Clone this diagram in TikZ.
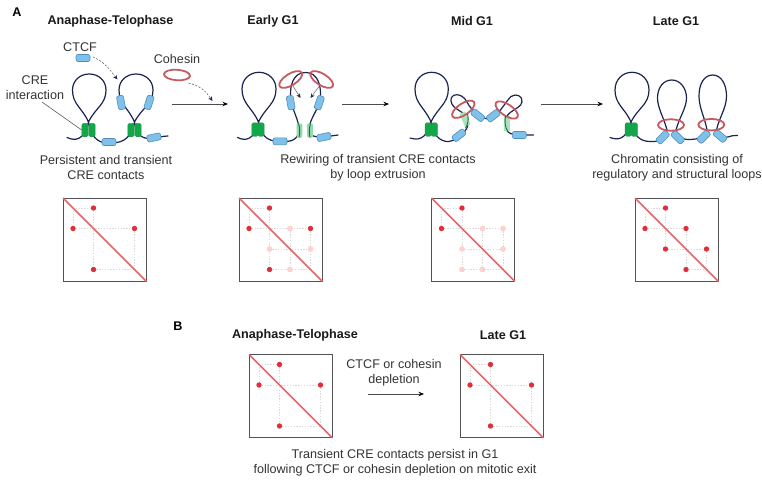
\documentclass[tikz,border=0pt]{standalone}
\usepackage{fontspec}
\setmainfont{Liberation Sans}
\usetikzlibrary{arrows.meta,shapes.geometric}
\definecolor{fibre}{HTML}{1B2350}
\definecolor{ctcfblue}{HTML}{7FC1E8}
\definecolor{ctcfedge}{HTML}{4E8FBE}
\definecolor{creg}{HTML}{12A84A}
\definecolor{credge}{HTML}{2E8B4A}
\definecolor{ringred}{HTML}{C65A5F}
\definecolor{diagred}{HTML}{E2666A}
\definecolor{dotred}{HTML}{E22D3B}
\definecolor{dotpale}{HTML}{FAD2D0}
\definecolor{gridgrey}{HTML}{DADADA}
\tikzset{
  x=1pt,y=-1pt,
  label text/.style={font=\fontsize{12.6}{14}\selectfont,inner sep=0pt,text=black!80,align=center},
  head text/.style={font=\fontsize{12.6}{14}\selectfont\bfseries,inner sep=0pt,text=black!90},
  panel text/.style={font=\fontsize{12.6}{14}\selectfont\bfseries,inner sep=0pt},
  fibreline/.style={draw=fibre,line width=1.2pt,line cap=round},
  ctcf/.style={draw=ctcfedge,fill=ctcfblue,line width=.6pt,rounded corners=2pt,minimum width=14pt,minimum height=7pt,inner sep=0pt,outer sep=0pt},
  cre/.style={draw=credge,fill=creg,line width=.3pt,rounded corners=1.5pt,minimum width=6.4pt,minimum height=13.5pt,inner sep=0pt},
  crefade/.style={fill=creg!45,draw=none,rounded corners=1pt,minimum width=5.6pt,minimum height=14pt,inner sep=0pt},
  crecore/.style={draw=creg!70!black,line width=.9pt},
  ring/.style={ellipse,draw=ringred,line width=1.8pt,minimum width=26pt,minimum height=11.5pt,inner sep=0pt,fill=none},
  stage arrow/.style={draw=black!70,line width=.8pt,-{Stealth[length=5.5pt,width=4.5pt,color=black]}},
  move arrow/.style={draw=black!55,line width=.6pt,-{Stealth[length=4.5pt,width=4pt,color=fibre]}},
  load arrow/.style={draw=black!60,line width=.6pt,dash pattern=on 2pt off 1.6pt,-{Stealth[length=4.5pt,width=4pt,color=fibre]}},
  mapbox/.style={draw=black!68,line width=1pt,minimum size=83.4pt,inner sep=0pt,outer sep=0pt},
  griddot/.style={draw=gridgrey,line width=.7pt,dash pattern=on 1.4pt off 1.4pt},
}
% closed chromatin loop: #1,#2 crossing point, #3 left, #4 right, #5 top, #6 height of the widest part
\newcommand{\fibreloop}[6]{%
  .. controls ({#1-.4*(#1-#3)},{#2-.45*(#2-#6)}) and (#3,{#6+.45*(#2-#6)}) .. (#3,#6)
  .. controls (#3,{#6-.58*(#6-#5)}) and ({(#3+#4)/2-.28*(#4-#3)},#5) .. ({(#3+#4)/2},#5)
  .. controls ({(#3+#4)/2+.28*(#4-#3)},#5) and (#4,{#6-.58*(#6-#5)}) .. (#4,#6)
  .. controls (#4,{#6+.45*(#2-#6)}) and ({#1+.4*(#4-#1)},{#2-.45*(#2-#6)}) .. (#1,#2)
}
% contact map: #1 name, #2 left, #3 top, #4 dotted segments, #5 strong dots, #6 pale dots
\newcommand{\contactmap}[6]{%
  \node[mapbox] (#1) at (#2+41.7,#3+41.7) {};
  \begin{scope}[shift={(#2,#3)}]
    \foreach \xa/\ya/\xb/\yb in {#4} \draw[griddot] (\xa,\ya) -- (\xb,\yb);
    \foreach \px/\py in {#6} \fill[dotpale] (\px,\py) circle (2.9pt);
    \foreach \px/\py in {#5} \fill[dotred] (\px,\py) circle (2.7pt);
  \end{scope}
  \draw[diagred,line width=1.6pt] (#1.north west) -- (#1.south east);
}
\def\A{10}\def\B{30.5}\def\C{51}\def\D{71.5}
\begin{document}
\begin{tikzpicture}
\useasboundingbox (0,0) rectangle (762,482);

% panel letters and stage titles
\node[panel text] (panelA) at (17,12) {A};
\node[panel text] (panelB) at (178,326) {B};
\node[head text] (t1) at (110.5,21) {Anaphase-Telophase};
\node[head text] (t2) at (273,21) {Early G1};
\node[head text] (t3) at (472,21) {Mid G1};
\node[head text] (t4) at (676,21) {Late G1};
\node[head text] (t5) at (295,335) {Anaphase-Telophase};
\node[head text] (t6) at (503,335) {Late G1};

% captions
\node[label text] (c1) at (106,167.5) {Persistent and transient\\[1.2pt]CRE contacts};
\node[label text] (c2) at (378,167.5) {Rewiring of transient CRE contacts\\[1.2pt]by loop extrusion};
\node[label text] (c3) at (677,167.5) {Chromatin consisting of\\[1.2pt]regulatory and structural loops};
\node[label text] (c4) at (395,462.5) {Transient CRE contacts persist in G1\\[1.2pt]following CTCF or cohesin depletion on mitotic exit};
\node[label text] (c5) at (394,372.5) {CTCF or cohesin\\[1.2pt]depletion};
\node[label text] (lctcf) at (80,47) {CTCF};
\node[label text] (lcoh) at (177,59) {Cohesin};
\node[label text] (lcre) at (35,87.5) {CRE\\[1.2pt]interaction};

% stage arrows
\coordinate (a1s) at (172,104); \coordinate (a1e) at (228,104);
\coordinate (a2s) at (342,104); \coordinate (a2e) at (389,104);
\coordinate (a3s) at (541,104); \coordinate (a3e) at (603,104);
\coordinate (a4s) at (368,394); \coordinate (a4e) at (424,394);
\draw[stage arrow] (a1s) -- (a1e);
\draw[stage arrow] (a2s) -- (a2e);
\draw[stage arrow] (a3s) -- (a3e);
\draw[stage arrow] (a4s) -- (a4e);

% ---------- Anaphase-Telophase chromatin
\draw[fibreline] (67,137.5) .. controls (75,141) and (84,141) .. (88.5,122)
  \fibreloop{88.5}{122}{72.5}{106}{74}{90}
  .. controls (91,135) and (96,143) .. (108,143)
  .. controls (120,143) and (130,142) .. (134.5,122)
  \fibreloop{134.5}{122}{119}{153}{74}{90}
  .. controls (137,135) and (141,139) .. (152,138.5)
  .. controls (158,138) and (162,136) .. (168,136);
\node[cre] (g1a) at (85,130) {}; \node[cre] (g1b) at (92,130) {};
\node[cre] (g1c) at (131,130) {}; \node[cre] (g1d) at (138,130) {};
\node[ctcf] (k1a) at (109,142) {};
\node[ctcf,rotate=12] (k1b) at (154,137.5) {};
\node[ctcf,rotate=100] (k1c) at (121,102.5) {};
\node[ctcf,rotate=72] (k1d) at (149,102.5) {};
\node[ctcf] (ctcflegend) at (83,58) {};
\node[ring,minimum width=26pt,minimum height=10.5pt,rotate=-4] (cohlegend) at (177,75) {};
\coordinate (crep) at (42,102);
\draw[black!65,line width=.6pt] (crep) -- (g1a.west);
\coordinate (dctcf) at (117.5,79.5);
\coordinate (dcoh) at (212.5,101);
\draw[load arrow] (ctcflegend.east)++(3,-1) .. controls (105,62) and (110,70) .. (dctcf);
\draw[load arrow] (cohlegend.south east)++(2,3) .. controls (200,86) and (205,90) .. (dcoh);

% ---------- Early G1 chromatin
\draw[fibreline] (237.5,137.5) .. controls (245,141) and (254,141) .. (258.5,122)
  \fibreloop{258.5}{122}{242}{276}{72.3}{89}
  .. controls (261,135) and (266,141) .. (279,141.5)
  .. controls (290,142) and (298,141) .. (299,130)
  .. controls (299,120) and (293,112) .. (291,100)
  .. controls (289,86) and (293,72.5) .. (305.5,72.5)
  .. controls (318,72.5) and (322,86) .. (320,100)
  .. controls (317,112) and (309,120) .. (309,130)
  .. controls (309,138) and (318,138) .. (338,135);
\node[cre] (g2a) at (255,129.5) {}; \node[cre] (g2b) at (261,129.5) {};
\node[crefade] (g2c) at (299.5,130.5) {}; \node[crefade] (g2d) at (310,130.5) {};
\draw[crecore] (298.5,123.5) .. controls (300,128) and (300,133) .. (299,137.5);
\draw[crecore] (310.5,123.5) .. controls (309,128) and (309,133) .. (310,137.5);
\node[ctcf] (k2a) at (280,141.3) {};
\node[ctcf,rotate=12] (k2b) at (324,137) {};
\node[ctcf,rotate=100] (k2c) at (290.7,102.7) {};
\node[ctcf,rotate=72] (k2d) at (319.3,102.7) {};
\node[ring,rotate=32] (r2a) at (290.7,79.5) {};
\node[ring,rotate=-32] (r2b) at (321.7,79.5) {};
\coordinate (m2a) at (300.5,98); \coordinate (m2b) at (310.5,98);
\draw[move arrow] (r2a.center)++(2,6) -- (m2a);
\draw[move arrow] (r2b.center)++(-2,6) -- (m2b);

% ---------- Mid G1 chromatin
\draw[fibreline] (410,138) .. controls (417,140) and (426,141) .. (431,122)
  \fibreloop{431}{122}{415}{448.3}{72.3}{89}
  .. controls (433,135) and (440,142) .. (449,141.5)
  .. controls (458,140) and (470,130) .. (468,120)
  .. controls (466,111) and (452,110) .. (451,101)
  .. controls (450,93) and (462,92) .. (467,102)
  .. controls (471,110) and (480,118) .. (488,119)
  .. controls (497,119) and (505,102) .. (511,96.5)
  .. controls (516,93) and (523,96) .. (522,102)
  .. controls (520,110) and (506,110) .. (505,122)
  .. controls (504,132) and (510,135) .. (520,135)
  -- (533.5,135);
\node[cre] (g3a) at (428.3,129.5) {}; \node[cre] (g3b) at (434.3,129.5) {};
\fill[creg!35,rotate around={22:(465,119)}] (462,112) rectangle (468,126);
\fill[creg!35] (504,116) rectangle (510,131);
\node[ctcf,rotate=38] (k3a) at (459,135.3) {};
\node[ctcf,rotate=-38] (k3b) at (477.7,115.3) {};
\node[ctcf,rotate=38] (k3c) at (493.3,115.7) {};
\node[ctcf] (k3d) at (519.3,135) {};
\node[ring,rotate=34] (r3a) at (463.3,109.3) {};
\node[ring,rotate=-34] (r3b) at (506.7,110) {};
\draw[crecore] (467.5,114) .. controls (469,119) and (468,124) .. (465.5,128);
\draw[crecore] (505.5,116) .. controls (504.5,122) and (505,127) .. (508,132);

% ---------- Late G1 chromatin
\draw[fibreline] (610,137.5) .. controls (617,140) and (626,141) .. (631,122)
  \fibreloop{631}{122}{615}{649}{72.3}{90}
  .. controls (633,135) and (640,141.5) .. (650,141.5)
  .. controls (658,142) and (665,140) .. (667,130)
  .. controls (664,118) and (657.5,108) .. (657.5,98)
  .. controls (657.5,88) and (663,80) .. (671.8,80)
  .. controls (680,80) and (686.5,88) .. (686.5,98)
  .. controls (686.5,108) and (679,118) .. (676,130)
  .. controls (676,136) and (682,140) .. (690,139.5)
  .. controls (697,139) and (705,139) .. (707,130)
  .. controls (705,118) and (699,108) .. (699,96)
  .. controls (699,84) and (704,75) .. (712.7,75)
  .. controls (721,75) and (726.5,84) .. (726.5,96)
  .. controls (726.5,108) and (719,118) .. (716.5,130)
  .. controls (717,135) and (722,139) .. (728,137)
  .. controls (731,136) and (734,135) .. (737.5,135.5);
\node[cre] (g4a) at (628.3,129.5) {}; \node[cre] (g4b) at (634.3,129.5) {};
\node[ctcf,rotate=45] (k4a) at (662.7,137.3) {};
\node[ctcf,rotate=-45] (k4b) at (677.7,137.3) {};
\node[ctcf,rotate=45] (k4c) at (703.7,136.7) {};
\node[ctcf,rotate=-40] (k4d) at (720,136) {};
\node[ring] (r4a) at (671,125) {};
\node[ring] (r4b) at (711.3,124.7) {};

% ---------- contact maps
\contactmap{m1}{63}{198}
  {\A/\A/\B/\A,\A/\A/\A/\B,\A/\B/\D/\B,\B/\A/\B/\D,\B/\D/\D/\D,\D/\B/\D/\D}
  {\B/\A,\A/\B,\D/\B,\B/\D}{}
\contactmap{m2}{239}{198}
  {\A/\A/\B/\A,\A/\A/\A/\B,\A/\B/\D/\B,\B/\A/\B/\D,\B/\D/\D/\D,\D/\B/\D/\D,\B/\C/\D/\C,\C/\B/\C/\D}
  {\B/\A,\A/\B,\D/\B,\B/\D}{\C/\B,\B/\C,\D/\C,\C/\D}
\contactmap{m3}{431.5}{198}
  {\A/\A/\B/\A,\A/\A/\A/\B,\A/\B/\D/\B,\B/\A/\B/\D,\B/\D/\D/\D,\D/\B/\D/\D,\B/\C/\D/\C,\C/\B/\C/\D}
  {\B/\A,\A/\B}{\C/\B,\D/\B,\B/\C,\D/\C,\B/\D,\C/\D}
\contactmap{m4}{635}{198}
  {\A/\A/\B/\A,\A/\A/\A/\B,\A/\B/\C/\B,\B/\A/\B/\C,\C/\B/\C/\D,\B/\C/\D/\C,\C/\D/\D/\D,\D/\C/\D/\D}
  {\B/\A,\A/\B,\C/\B,\B/\C,\D/\C,\C/\D}{}
\contactmap{m5}{249}{354.5}
  {\A/\A/\B/\A,\A/\A/\A/\B,\A/\B/\D/\B,\B/\A/\B/\D,\B/\D/\D/\D,\D/\B/\D/\D}
  {\B/\A,\A/\B,\D/\B,\B/\D}{}
\contactmap{m6}{460}{354.5}
  {\A/\A/\B/\A,\A/\A/\A/\B,\A/\B/\D/\B,\B/\A/\B/\D,\B/\D/\D/\D,\D/\B/\D/\D}
  {\B/\A,\A/\B,\D/\B,\B/\D}{}
\end{tikzpicture}
\end{document}
